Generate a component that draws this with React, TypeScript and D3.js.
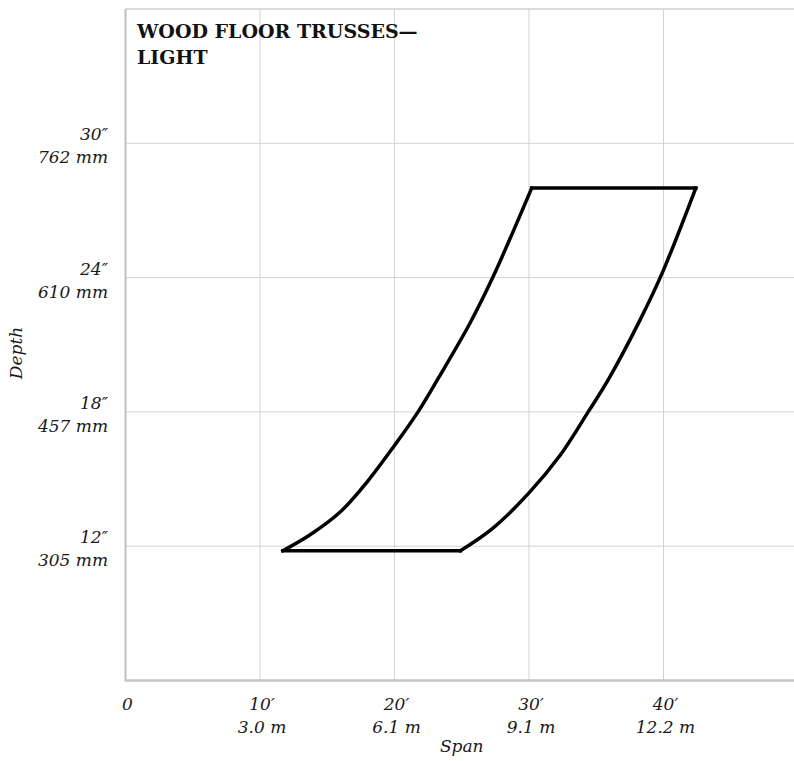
import React from "react";
import * as d3 from "d3";

// Span (ft) ticks and labels
const spanTicks = [0, 10, 20, 30, 40];
const spanFeetLabels = ["0", "10′", "20′", "30′", "40′"];
const spanMetricLabels = ["", "3.0 m", "6.1 m", "9.1 m", "12.2 m"];

// Depth (in) ticks and labels
const depthTicks = [12, 18, 24, 30];
const depthInchLabels = ["12″", "18″", "24″", "30″"];
const depthMetricLabels = ["305 mm", "457 mm", "610 mm", "762 mm"];

// Shorter-span edge of the region (bottom -> top)
const leftEdgeSpan = [11.7, 13.7, 16.0, 18.0, 20.0, 21.75, 23.3, 25.6, 27.3, 30.2];
const leftEdgeDepth = [11.8, 12.5, 13.55, 14.9, 16.5, 18.0, 19.55, 21.95, 24.0, 28.0];

// Longer-span edge of the region (bottom -> top)
const rightEdgeSpan = [24.9, 27.3, 30.0, 32.3, 34.4, 35.95, 38.25, 39.9, 42.4];
const rightEdgeDepth = [11.8, 12.8, 14.38, 16.05, 18.0, 19.5, 22.1, 24.2, 28.0];

const title = ["WOOD FLOOR TRUSSES—", "LIGHT"];

export default function App() {
  const W = 794;
  const H = 761;
  const x = d3.scaleLinear().domain([0, 50]).range([125.5, 798]);
  const y = d3.scaleLinear().domain([6, 36]).range([680.5, 9]);

  const line = d3
    .line<[number, number]>()
    .x((d) => x(d[0]))
    .y((d) => y(d[1]))
    .curve(d3.curveCatmullRom.alpha(0.5));

  const leftPts: [number, number][] = leftEdgeSpan.map((s, i) => [s, leftEdgeDepth[i]]);
  const rightPts: [number, number][] = rightEdgeSpan.map((s, i) => [s, rightEdgeDepth[i]]);
  const leftPath = line(leftPts) || "";
  const rightPath = line(rightPts) || "";
  const bottom = `M${x(leftEdgeSpan[0])},${y(leftEdgeDepth[0])}L${x(rightEdgeSpan[0])},${y(rightEdgeDepth[0])}`;
  const lt = leftPts.length - 1;
  const rt = rightPts.length - 1;
  const top = `M${x(leftEdgeSpan[lt])},${y(leftEdgeDepth[lt])}L${x(rightEdgeSpan[rt])},${y(rightEdgeDepth[rt])}`;

  const labelFont = "'DejaVu Serif', serif";
  const textColor = "#1a1a1a";
  const fs = 17;

  return (
    <svg
      width={W}
      height={H}
      style={{ position: "absolute", left: 0, top: 0, background: "#fff" }}
    >
      {/* grid */}
      {spanTicks.filter((t) => t > 0).map((t) => (
        <line key={"vx" + t} x1={x(t)} x2={x(t)} y1={y(36)} y2={y(6)} stroke="#d2d2d2" strokeWidth={1} />
      ))}
      {depthTicks.map((t) => (
        <line key={"hy" + t} x1={x(0)} x2={W} y1={y(t)} y2={y(t)} stroke="#d2d2d2" strokeWidth={1} />
      ))}
      {/* top border */}
      <line x1={x(0)} x2={W} y1={y(36)} y2={y(36)} stroke="#cfcfcf" strokeWidth={1.5} />
      {/* axes */}
      <line x1={x(0)} x2={x(0)} y1={y(36)} y2={y(6) + 1} stroke="#c0c0c0" strokeWidth={2} />
      <line x1={x(0)} x2={W} y1={y(6)} y2={y(6)} stroke="#c4c4c4" strokeWidth={2.5} />

      {/* title */}
      <g fontFamily={labelFont} fontWeight="bold" fontSize={19} fill="#111">
        <text x={137} y={38}>{title[0]}</text>
        <text x={137} y={64}>{title[1]}</text>
      </g>

      {/* region */}
      <g fill="none" stroke="#000" strokeWidth={3.5} strokeLinejoin="miter" strokeLinecap="square">
        <path d={leftPath} />
        <path d={rightPath} />
        <path d={bottom} />
        <path d={top} />
      </g>

      {/* y labels */}
      <g fontFamily={labelFont} fontStyle="italic" fontSize={fs} fill={textColor} textAnchor="end">
        {depthTicks.map((t, i) => (
          <g key={"yl" + t}>
            <text x={108} y={y(t) - 3}>{depthInchLabels[i]}</text>
            <text x={108} y={y(t) + 20}>{depthMetricLabels[i]}</text>
          </g>
        ))}
      </g>

      {/* x labels */}
      <g fontFamily={labelFont} fontStyle="italic" fontSize={fs} fill={textColor} textAnchor="middle">
        {spanTicks.map((t, i) => (
          <g key={"xl" + t}>
            <text x={x(t) + 2} y={710}>{spanFeetLabels[i]}</text>
            {spanMetricLabels[i] && <text x={x(t) + 2} y={733}>{spanMetricLabels[i]}</text>}
          </g>
        ))}
      </g>

      {/* axis titles */}
      <text
        fontFamily={labelFont}
        fontStyle="italic"
        fontSize={fs}
        fill={textColor}
        textAnchor="middle"
        x={x(25)}
        y={752}
      >
        Span
      </text>
      <text
        fontFamily={labelFont}
        fontStyle="italic"
        fontSize={fs}
        fill={textColor}
        textAnchor="middle"
        transform={`translate(22, ${353}) rotate(-90)`}
      >
        Depth
      </text>
    </svg>
  );
}
